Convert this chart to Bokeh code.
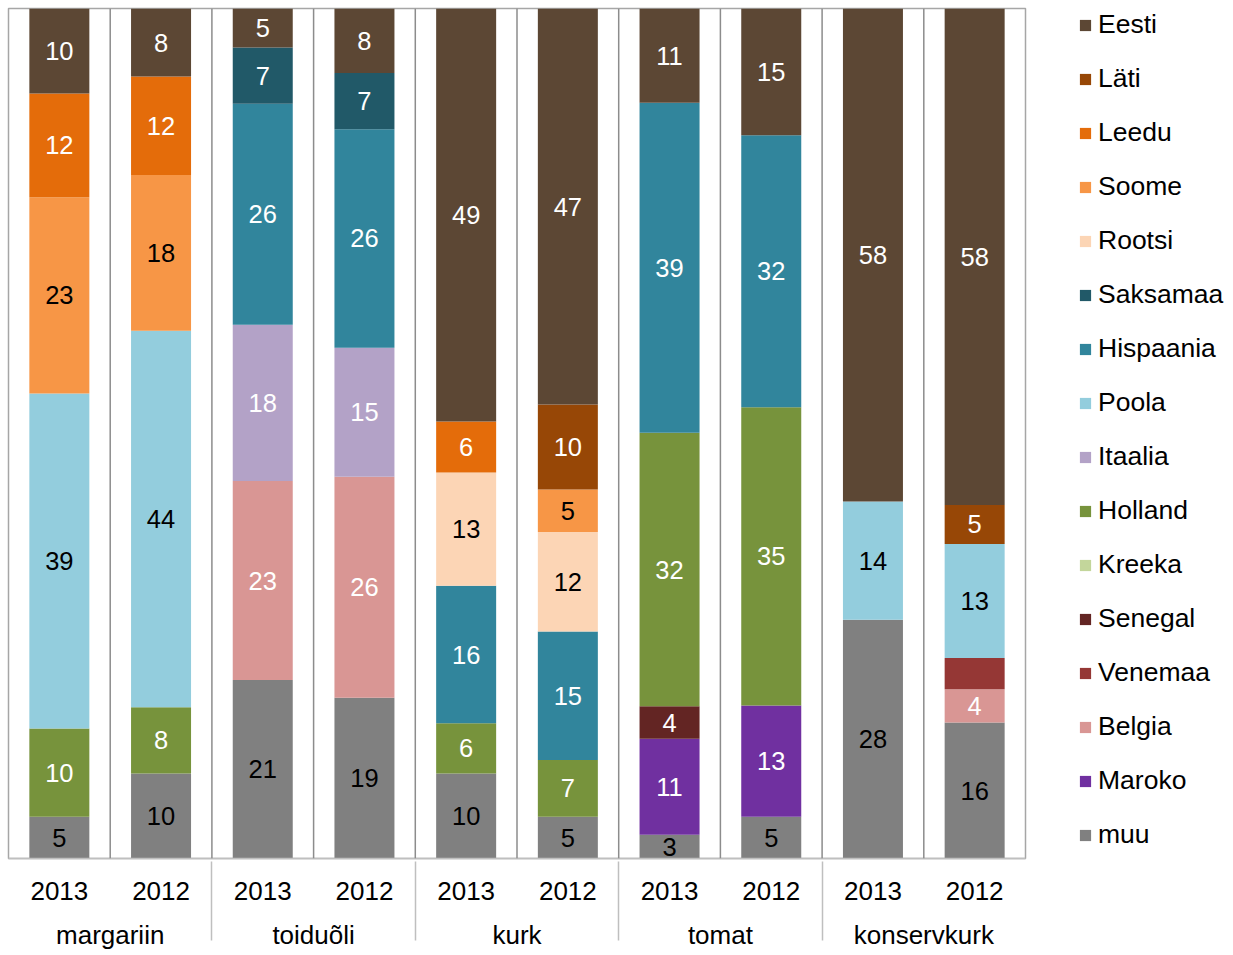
from bokeh.plotting import figure
from bokeh.models import (FactorRange, Range1d, ColumnDataSource, Legend, LegendItem, Span)
from bokeh.core.properties import value
from bokeh.embed import file_html
from bokeh.resources import INLINE

# ---------------- data ----------------
groups = ["margariin", "toiduõli", "kurk", "tomat", "konservkurk"]
years = ["2013", "2012"]

# stacking order, bottom -> top
series = ["muu", "Maroko", "Belgia", "Venemaa", "Senegal", "Kreeka", "Holland",
          "Itaalia", "Poola", "Hispaania", "Saksamaa", "Rootsi", "Soome",
          "Leedu", "Läti", "Eesti"]

# shares (%) per bar: margariin 2013, 2012, toiduõli 2013, 2012, kurk 2013, 2012,
# tomat 2013, 2012, konservkurk 2013, 2012
muu       = [4.9, 10.0, 21.0, 18.9, 10.0, 4.9, 2.8, 4.9, 28.1, 16.0]
Maroko    = [0, 0, 0, 0, 0, 0, 11.3, 13.1, 0, 0]
Belgia    = [0, 0, 23.4, 26.0, 0, 0, 0, 0, 0, 3.9]
Venemaa   = [0, 0, 0, 0, 0, 0, 0, 0, 0, 3.7]
Senegal   = [0, 0, 0, 0, 0, 0, 3.8, 0, 0, 0]
Kreeka    = [0, 0, 0, 0, 0, 0, 0, 0, 0, 0]
Holland   = [10.4, 7.8, 0, 0, 5.9, 6.7, 32.2, 35.1, 0, 0]
Itaalia   = [0, 0, 18.4, 15.2, 0, 0, 0, 0, 0, 0]
Poola     = [39.4, 44.3, 0, 0, 0, 0, 0, 0, 13.9, 13.4]
Hispaania = [0, 0, 26.0, 25.7, 16.2, 15.1, 38.8, 32.0, 0, 0]
Saksamaa  = [0, 0, 6.6, 6.6, 0, 0, 0, 0, 0, 0]
Rootsi    = [0, 0, 0, 0, 13.3, 11.7, 0, 0, 0, 0]
Soome     = [23.1, 18.3, 0, 0, 0, 5.0, 0, 0, 0, 0]
Leedu     = [12.2, 11.6, 0, 0, 6.0, 0, 0, 0, 0, 0]
Läti      = [0, 0, 0, 0, 0, 10.0, 0, 0, 0, 4.6]
Eesti     = [10.0, 8.0, 4.6, 7.6, 48.6, 46.6, 11.1, 14.9, 58.0, 58.4]

values = {"muu": muu, "Maroko": Maroko, "Belgia": Belgia, "Venemaa": Venemaa,
          "Senegal": Senegal, "Kreeka": Kreeka, "Holland": Holland,
          "Itaalia": Itaalia, "Poola": Poola, "Hispaania": Hispaania,
          "Saksamaa": Saksamaa, "Rootsi": Rootsi, "Soome": Soome,
          "Leedu": Leedu, "Läti": Läti, "Eesti": Eesti}

# segments whose value label is not shown in the original
hidden_labels = [("Venemaa", 9)]

colors = {"Eesti": "#5C4734", "Läti": "#974706", "Leedu": "#E46C0A",
          "Soome": "#F79646", "Rootsi": "#FCD5B5", "Saksamaa": "#215968",
          "Hispaania": "#31859C", "Poola": "#93CDDD", "Itaalia": "#B3A2C7",
          "Holland": "#77933C", "Kreeka": "#C3D69B", "Senegal": "#632523",
          "Venemaa": "#953735", "Belgia": "#D99694", "Maroko": "#7030A0",
          "muu": "#808080"}
dark_text = {"Soome", "Rootsi", "Poola", "muu", "Kreeka"}

FONT = "Liberation Sans"

# ---------------- figure ----------------
factors = [(g, y) for g in groups for y in years]
src = ColumnDataSource(dict(x=factors, **values))

p = figure(x_range=FactorRange(*factors, group_padding=0, range_padding=0),
           y_range=Range1d(0, 100),
           frame_width=1017, frame_height=850,
           min_border_left=8, min_border_top=8, min_border_right=200,
           min_border_bottom=0,
           y_axis_location=None,
           output_backend="svg", toolbar_location=None)
p.background_fill_color = "white"
p.outline_line_color = "#A6A6A6"
p.outline_line_width = 1.5
p.xgrid.visible = False
p.ygrid.visible = False

renderers = p.vbar_stack(series, x="x", width=0.59, source=src,
                         color=[colors[s] for s in series], line_color=None)

# category boundary lines
for k in range(1, len(factors)):
    p.add_layout(Span(location=k, dimension="height", line_color="#8C8C8C",
                      line_width=1.5))

# value labels
lx, ly, lt, lc = [], [], [], []
for i, f in enumerate(factors):
    base = 0.0
    for s in series:
        v = values[s][i]
        if v > 0 and (s, i) not in hidden_labels:
            lx.append(f)
            ly.append(base + v / 2)
            lt.append(str(int(round(v))))
            lc.append("black" if s in dark_text else "white")
        base += v
lsrc = ColumnDataSource(dict(x=lx, y=ly, t=lt, c=lc))
p.text(x="x", y="y", text="t", source=lsrc, text_align="center",
       text_baseline="middle", text_color="c",
       text_font=value(FONT), text_font_size=value("25.5px"))

# axis
ax = p.xaxis[0]
ax.axis_line_color = "#BFBFBF"
ax.axis_line_width = 1.5
ax.major_tick_line_color = None
ax.minor_tick_line_color = None
ax.major_label_text_font = FONT
ax.major_label_text_font_size = "26px"
ax.major_label_text_color = "black"
ax.group_text_font = FONT
ax.group_text_font_size = "26px"
ax.group_text_font_style = "normal"
ax.group_text_color = "black"
ax.major_label_standoff = 17
ax.separator_line_color = "#BFBFBF"
ax.separator_line_width = 1.5

# legend (top -> bottom: Eesti ... muu)
items = [LegendItem(label=s, renderers=[r])
         for s, r in reversed(list(zip(series, renderers)))]
legend = Legend(items=items, location=(53, 8), padding=0, margin=0,
                spacing=23, label_height=30, glyph_height=14, glyph_width=14,
                label_standoff=6, border_line_color=None,
                background_fill_alpha=0,
                label_text_font=FONT, label_text_font_size="26.5px",
                label_text_color="black")
p.add_layout(legend, "right")

open("out.html", "w").write(file_html(p, INLINE))
